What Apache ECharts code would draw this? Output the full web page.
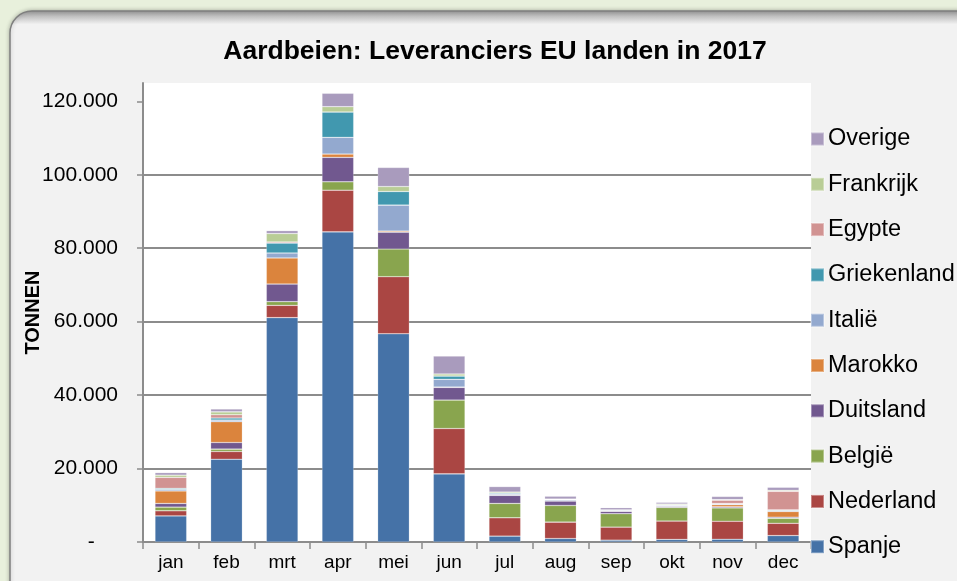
<!DOCTYPE html>
<html>
<head>
<meta charset="utf-8">
<script src="https://cdn.jsdelivr.net/npm/echarts@6/dist/echarts.min.js"></script>
<style>
  html, body { margin: 0; padding: 0; background: #e8f0dc; }
  #chart { width: 957px; height: 581px; }
</style>
</head>
<body>
<div id="chart"></div>
<script>
// months and tonnes per supplier country
const months = ['jan', 'feb', 'mrt', 'apr', 'mei', 'jun', 'jul', 'aug', 'sep', 'okt', 'nov', 'dec']
const spanje = [7100, 22550, 61100, 84450, 56700, 18550, 1600, 950, 500, 700, 750, 1750]
const nederland = [1400, 2100, 3350, 11350, 15550, 12350, 5000, 4450, 3550, 5000, 4900, 3350]
const belgie = [1000, 650, 1000, 2300, 7550, 7750, 3900, 4550, 3650, 3700, 3650, 1350]
const duitsland = [1000, 1800, 4800, 6650, 4550, 3450, 2200, 1200, 650, 300, 300, 300]
const marokko = [3400, 5650, 7100, 900, 300, 100, 0, 0, 0, 0, 550, 1550]
const italie = [400, 450, 1350, 4550, 7100, 2100, 300, 300, 250, 250, 200, 250]
const griekenland = [300, 550, 2700, 6900, 3700, 900, 300, 150, 100, 150, 150, 200]
const egypte = [3000, 900, 300, 0, 0, 0, 0, 0, 0, 0, 900, 5050]
const frankrijk = [600, 800, 2300, 1450, 1350, 550, 300, 100, 50, 250, 150, 250]
const overige = [700, 750, 800, 3650, 5200, 4900, 1500, 750, 600, 450, 850, 850]
const yTicks = [0, 20000, 40000, 60000, 80000, 100000, 120000]
const yTop = 125000 // plot area runs a bit above the last tick

const seriesDefs = [
  { name: 'Spanje', data: spanje, color: '#4572a7' },
  { name: 'Nederland', data: nederland, color: '#aa4643' },
  { name: 'België', data: belgie, color: '#89a54e' },
  { name: 'Duitsland', data: duitsland, color: '#71588f' },
  { name: 'Marokko', data: marokko, color: '#db843d' },
  { name: 'Italië', data: italie, color: '#93a9cf' },
  { name: 'Griekenland', data: griekenland, color: '#4198af' },
  { name: 'Egypte', data: egypte, color: '#d19392' },
  { name: 'Frankrijk', data: frankrijk, color: '#b9cd96' },
  { name: 'Overige', data: overige, color: '#a99bbd' }
]

const font = '"Liberation Sans", Arial, sans-serif'
const chart = echarts.init(document.getElementById('chart'))

const option = {
  backgroundColor: '#e8f0dc',
  animation: false,
  graphic: [
    {
      type: 'rect', z: -10,
      shape: { x: 10, y: 11, width: 1000, height: 700, r: 22 },
      style: {
        fill: new echarts.graphic.LinearGradient(0, 0, 0, 1, [
          { offset: 0, color: '#9a9a9a' },
          { offset: 0.02, color: '#f2f2f2' },
          { offset: 1, color: '#f2f2f2' }
        ]),
        stroke: '#7f7f7f', lineWidth: 1.5,
        shadowBlur: 4, shadowColor: 'rgba(0,0,0,0.25)'
      }
    }
  ],
  title: {
    text: 'Aardbeien: Leveranciers EU landen in 2017',
    left: 490,
    top: 33,
    textAlign: 'center',
    textStyle: { fontFamily: font, fontSize: 26.5, fontWeight: 'bold', color: '#000' }
  },
  legend: {
    orient: 'vertical',
    left: 805,
    top: 121,
    itemWidth: 13,
    itemHeight: 13,
    itemGap: 19.3,
    icon: 'rect',
    data: seriesDefs.map(s => s.name).reverse(),
    textStyle: { fontFamily: font, fontSize: 23.5, color: '#000', lineHeight: 26, padding: [0, 0, 0, -1] }
  },
  grid: {
    left: 143,
    right: 146,
    top: 83,
    bottom: 39,
    show: true,
    backgroundColor: '#ffffff',
    borderWidth: 0
  },
  xAxis: {
    type: 'category',
    data: months,
    axisLine: { lineStyle: { color: '#8c8c8c', width: 2 } },
    axisTick: { show: true, length: 7, lineStyle: { color: '#8c8c8c', width: 1.5 } },
    axisLabel: { fontFamily: font, fontSize: 19, color: '#000', margin: 11 }
  },
  yAxis: {
    type: 'value',
    min: yTicks[0],
    max: yTop,
    interval: yTicks[1] - yTicks[0],
    name: 'TONNEN',
    nameLocation: 'middle',
    nameGap: 100,
    nameMoveOverlap: false,
    nameRotate: 90,
    nameTextStyle: { fontFamily: font, fontSize: 20, fontWeight: 'bold', color: '#000' },
    axisLine: { show: true, lineStyle: { color: '#8c8c8c', width: 2 } },
    axisTick: { show: true, length: 6, customValues: yTicks, lineStyle: { color: '#8c8c8c', width: 1.5 } },
    axisLabel: {
      fontFamily: font, fontSize: 21, color: '#000', margin: 25,
      customValues: yTicks,
      formatter: v => v === 0 ? '-    ' : v.toLocaleString('de-DE')
    },
    splitLine: { showMaxLine: false, lineStyle: { color: '#8c8c8c', width: 2 } }
  },
  series: seriesDefs.map(s => ({
    name: s.name,
    type: 'bar',
    stack: 'total',
    barWidth: '57%',
    data: s.data,
    itemStyle: { color: s.color, borderColor: 'rgba(255,255,255,0.35)', borderWidth: 0.6 }
  }))
}

chart.setOption(option)
</script>
</body>
</html>
